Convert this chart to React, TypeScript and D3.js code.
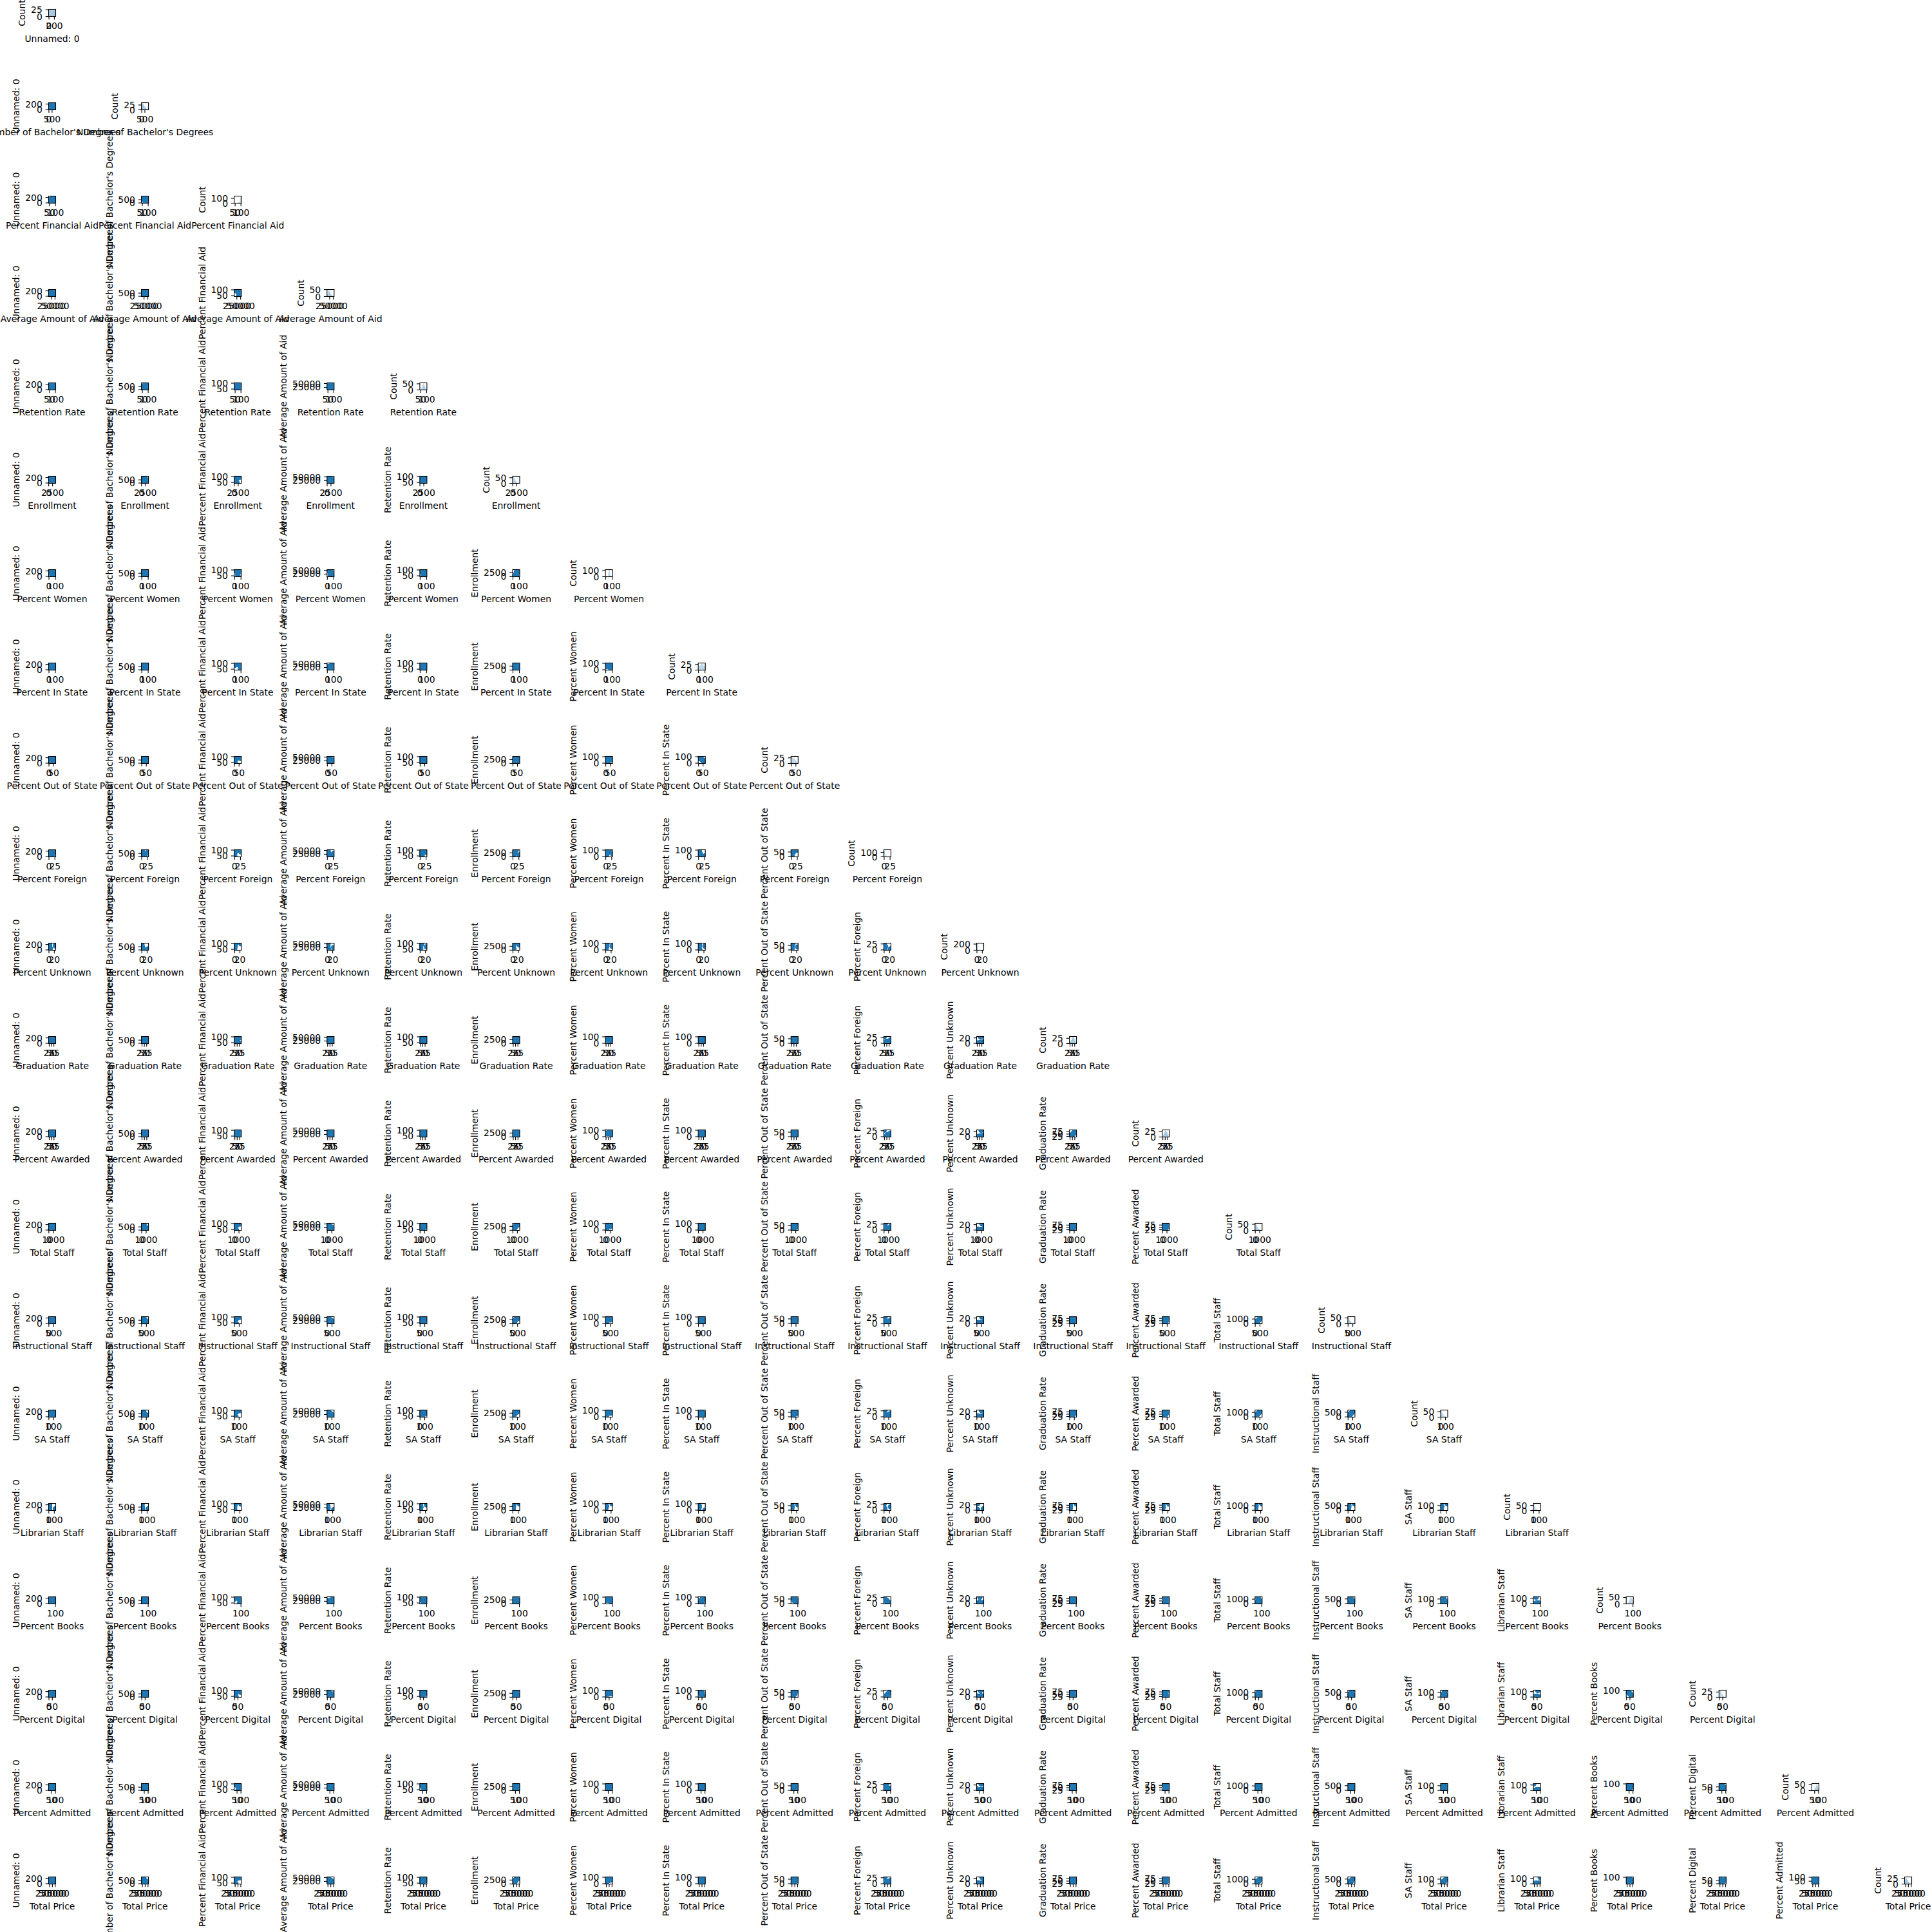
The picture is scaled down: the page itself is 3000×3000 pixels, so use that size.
import * as d3 from 'd3';

// variable names (row i = x variable, column j = y variable)
const names = [
  'Unnamed: 0', "Number of Bachelor's Degrees", 'Percent Financial Aid', 'Average Amount of Aid',
  'Retention Rate', 'Enrollment', 'Percent Women', 'Percent In State', 'Percent Out of State',
  'Percent Foreign', 'Percent Unknown', 'Graduation Rate', 'Percent Awarded', 'Total Staff',
  'Instructional Staff', 'SA Staff', 'Librarian Staff', 'Percent Books', 'Percent Digital',
  'Percent Admitted', 'Total Price',
];

// sample of colleges, one value per college for each variable
const unnamed0 = [0, 15, 30, 48, 62, 80, 95, 110, 128, 140, 155, 170, 188, 205, 220, 238];
const bachelors = [120, 340, 560, 210, 890, 5, 430, 1020, 260, 610, 150, 720, 380, 95, 505, 300];
const pctFinAid = [100, 98, 62, 99, 88, 100, 97, 45, 100, 96, 99, 85, 100, 74, 94, 100];
const avgAid = [18500, 32400, 41200, 12800, 27600, 52300, 22100, 36700, 15400, 47800, 25900, 30200, 9800, 39500, 21300, 28700];
const retention = [78, 85, 62, 91, 74, 100, 69, 82, 55, 88, 71, 79, 66, 93, 45, 81];
const enrollment = [1450, 3200, 980, 4300, 2100, 760, 3600, 1800, 2650, 150, 3400, 1250, 2900, 640, 1700, 2300];
const pctWomen = [52, 61, 48, 100, 57, 44, 63, 55, 70, 0, 58, 50, 66, 59, 47, 54];
const pctInState = [85, 42, 100, 0, 67, 74, 51, 90, 33, 79, 60, 8, 72, 88, 45, 64];
const pctOutState = [12, 48, 0, 62, 28, 20, 40, 8, 55, 17, 33, 71, 22, 10, 45, 30];
const pctForeign = [1, 6, 0, 14, 3, 2, 5, 1, 8, 2, 4, 27, 3, 1, 7, 2];
const pctUnknown = [0, 2, 1, 5, 0, 3, 1, 0, 2, 1, 24, 0, 1, 2, 0, 1];
const gradRate = [48, 72, 35, 91, 58, 66, 44, 79, 52, 85, 61, 22, 69, 55, 76, 63];
const pctAwarded = [55, 78, 41, 88, 62, 70, 49, 82, 57, 90, 66, 22, 73, 60, 80, 68];
const totalStaff = [320, 780, 20, 1450, 520, 240, 910, 410, 640, 180, 1120, 290, 700, 210, 460, 580];
const instrStaff = [140, 360, 10, 690, 230, 110, 420, 180, 300, 85, 520, 130, 330, 95, 210, 260];
const saStaff = [25, 62, 2, 140, 40, 18, 75, 31, 52, 15, 98, 22, 58, 16, 36, 47];
const librarianStaff = [4, 9, 2, 120, 6, 3, 12, 5, 8, 2, 14, 4, 10, 3, 6, 7];
const pctBooks = [72, 58, 85, 40, 66, 91, 53, 77, 61, 100, 48, 5, 69, 82, 56, 64];
const pctDigital = [28, 42, 15, 60, 34, 9, 47, 23, 39, 0, 52, 95, 31, 18, 44, 36];
const pctAdmitted = [68, 45, 92, 18, 74, 81, 59, 63, 87, 35, 71, 52, 78, 95, 66, 100];
const totalPrice = [24500, 48200, 19800, 76500, 35600, 29400, 56800, 31200, 44900, 22700, 63500, 27300, 52100, 20900, 39800, 46300];

const columns = [
  unnamed0, bachelors, pctFinAid, avgAid, retention, enrollment, pctWomen, pctInState,
  pctOutState, pctForeign, pctUnknown, gradRate, pctAwarded, totalStaff, instrStaff,
  saStaff, librarianStaff, pctBooks, pctDigital, pctAdmitted, totalPrice,
];

// tick values per variable
const varTicks = [
  [0, 200], [0, 500], [50, 100], [25000, 50000], [50, 100], [0, 2500], [0, 100],
  [0, 100], [0, 50], [0, 25], [0, 20], [25, 50, 75], [25, 50, 75], [0, 1000], [0, 500],
  [0, 100], [0, 100], [0, 100], [0, 50], [50, 100], [25000, 50000, 75000],
];

// histogram bin counts on the diagonal
const histCounts = [
  [25, 25, 25, 25, 25, 25, 25, 25, 25, 24],
  [28, 35, 30, 24, 18, 14, 10, 8, 6, 4],
  [2, 3, 4, 5, 8, 10, 15, 25, 40, 140],
  [20, 35, 48, 40, 30, 22, 15, 10, 6, 3],
  [5, 8, 15, 28, 45, 55, 40, 30, 15, 8],
  [60, 52, 40, 30, 22, 15, 10, 6, 3, 2],
  [2, 1, 3, 5, 60, 110, 40, 12, 4, 4],
  [15, 20, 22, 25, 28, 30, 27, 24, 20, 18],
  [30, 28, 26, 24, 22, 20, 15, 10, 6, 4],
  [150, 50, 20, 10, 5, 3, 2, 1, 1, 1],
  [220, 15, 6, 3, 2, 1, 1, 0, 0, 1],
  [6, 12, 18, 25, 30, 32, 28, 22, 15, 8],
  [5, 10, 18, 26, 32, 30, 26, 20, 14, 8],
  [55, 48, 38, 28, 20, 14, 9, 6, 4, 2],
  [58, 50, 36, 26, 18, 12, 8, 5, 3, 2],
  [62, 48, 34, 25, 17, 11, 7, 4, 3, 1],
  [66, 52, 30, 20, 12, 8, 5, 3, 2, 1],
  [4, 6, 10, 18, 28, 40, 52, 45, 30, 15],
  [28, 32, 26, 20, 14, 10, 7, 5, 3, 2],
  [3, 5, 8, 14, 22, 32, 45, 55, 40, 25],
  [22, 30, 26, 20, 16, 12, 9, 6, 4, 2],
];
const countTicks = [
  [0, 25], [0, 25], [0, 100], [0, 50], [0, 50], [0, 50], [0, 100], [0, 25], [0, 25], [0, 100],
  [0, 200], [0, 25], [0, 25], [0, 50], [0, 50], [0, 50], [0, 50], [0, 50], [0, 25], [0, 50], [0, 25],
];

const BOX = 11;
const X0 = 75.5;
const DX = 144.1;
const Y0 = 14.5;
const DY = 145;
const FS = 13.9;
const DIGIT = 8.84;
const TICK = 4.86;
const PAD = 4.86;
const BLUE = '#1f77b4';

const padded = (vals: number[]) => {
  const [a, b] = d3.extent(vals) as [number, number];
  const p = (b - a) * 0.05;
  return [a - p, b + p];
};
const domains = columns.map(padded);
const inDomain = (t: number, dom: number[]) => t >= Math.min(dom[0], dom[1]) && t <= Math.max(dom[0], dom[1]);

function Cell({ i, j }: { i: number; j: number }) {
  const x0 = X0 + DX * j;
  const y0 = Y0 + DY * i;
  const xs = d3.scaleLinear().domain(domains[i]).range([0, BOX]);
  const diag = i === j;
  const counts = histCounts[i];
  const ys = diag
    ? d3.scaleLinear().domain([0, (d3.max(counts) as number) * 1.05]).range([BOX, 0])
    : d3.scaleLinear().domain(domains[j]).range([BOX, 0]);
  const yTicks = (diag ? countTicks[i] : varTicks[j]).filter((t) => inDomain(t, ys.domain()));
  const xTicks = varTicks[i].filter((t) => inDomain(t, xs.domain()));
  const ylabel = diag ? 'Count' : names[j];
  const yLabW = d3.max(yTicks, (t) => String(t).length * DIGIT) as number;
  const ext = d3.extent(columns[i]) as [number, number];
  const edge = d3.scaleLinear().domain([0, counts.length]).range(ext);

  return (
    <g>
      <svg x={x0} y={y0} width={BOX} height={BOX} overflow="hidden">
        <rect width={BOX} height={BOX} fill="white" />
        {diag
          ? counts.map((c, k) => (
              <rect
                key={k}
                x={xs(edge(k))}
                width={Math.max(0, xs(edge(k + 1)) - xs(edge(k)))}
                y={ys(c)}
                height={BOX - ys(c)}
                fill={BLUE}
                fillOpacity={0.75}
                stroke="white"
                strokeWidth={0.4}
              />
            ))
          : columns[i].map((v, k) => (
              <circle key={k} cx={xs(v)} cy={ys(columns[j][k])} r={4.2} fill={BLUE} />
            ))}
      </svg>
      <rect x={x0} y={y0} width={BOX} height={BOX} fill="none" stroke="black" strokeWidth={1.1} />
      {yTicks.map((t) => (
        <g key={'y' + t}>
          <line x1={x0} x2={x0 - TICK} y1={y0 + ys(t)} y2={y0 + ys(t)} stroke="black" strokeWidth={1.1} />
          <text x={x0 - TICK - PAD} y={y0 + ys(t) + 5} textAnchor="end" fontSize={FS}>
            {t}
          </text>
        </g>
      ))}
      {xTicks.map((t) => (
        <g key={'x' + t}>
          <line x1={x0 + xs(t)} x2={x0 + xs(t)} y1={y0 + BOX} y2={y0 + BOX + TICK} stroke="black" strokeWidth={1.1} />
          <text x={x0 + xs(t)} y={y0 + BOX + TICK + PAD + 10.2} textAnchor="middle" fontSize={FS}>
            {t}
          </text>
        </g>
      ))}
      <text x={x0 + BOX / 2} y={y0 + BOX + 39} textAnchor="middle" fontSize={FS}>
        {names[i]}
      </text>
      <text
        transform={`translate(${x0 - TICK - PAD - yLabW - 5.56 - 3.3},${y0 + BOX / 2}) rotate(-90)`}
        textAnchor="middle"
        fontSize={FS}
      >
        {ylabel}
      </text>
    </g>
  );
}

export default function App() {
  const cells: JSX.Element[] = [];
  for (let i = 0; i < names.length; i++) {
    for (let j = 0; j <= i; j++) cells.push(<Cell key={`${i}-${j}`} i={i} j={j} />);
  }
  return (
    <svg
      width={3000}
      height={3000}
      style={{ position: 'absolute', left: 0, top: 0, background: 'white' }}
      fontFamily="DejaVu Sans"
    >
      {cells}
    </svg>
  );
}
